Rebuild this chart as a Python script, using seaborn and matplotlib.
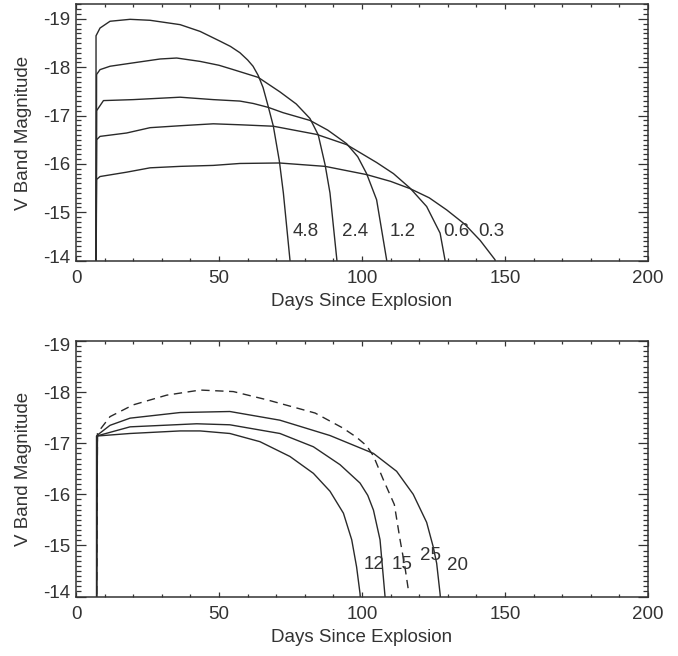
import matplotlib
matplotlib.use("Agg")
import matplotlib.pyplot as plt
from matplotlib.ticker import MultipleLocator, FixedLocator
from matplotlib.transforms import ScaledTranslation
import seaborn as sns
import pandas as pd

# ---------------- data: top panel ----------------
top_labels = ["4.8", "2.4", "1.2", "0.6", "0.3"]
days_48 = [7.0, 7.0, 8.4, 11.9, 18.9, 25.9, 36.4, 43.4, 50.3, 54.0, 57.3, 60.0, 61.9, 63.7, 65.4, 67.2, 69.0, 71.1, 72.5, 74.8, 75.0]
mag_48 = [-13.5, -18.65, -18.81, -18.95, -18.99, -18.97, -18.88, -18.74, -18.54, -18.43, -18.30, -18.15, -18.02, -17.83, -17.58, -17.19, -16.78, -16.06, -15.40, -14.02, -13.9]
days_24 = [7.0, 7.2, 8.4, 11.9, 20.0, 29.4, 35.2, 43.4, 50.0, 55.0, 63.7, 71.3, 77.0, 81.8, 84.7, 87.1, 88.8, 91.2, 91.4]
mag_24 = [-13.5, -17.85, -17.95, -18.02, -18.09, -18.17, -18.19, -18.12, -18.04, -17.95, -17.79, -17.49, -17.24, -16.94, -16.60, -15.98, -15.40, -14.02, -13.9]
days_12 = [7.0, 7.2, 9.6, 20.0, 36.4, 48.0, 57.3, 62.0, 67.2, 72.4, 81.8, 88.0, 94.6, 98.5, 101.6, 105.1, 108.6, 108.8]
mag_12 = [-13.5, -17.10, -17.31, -17.33, -17.38, -17.33, -17.30, -17.25, -17.17, -17.06, -16.90, -16.70, -16.42, -16.15, -15.80, -15.26, -14.02, -13.9]
days_06 = [7.0, 7.2, 8.4, 17.7, 25.9, 36.4, 48.0, 57.3, 69.0, 84.2, 94.6, 105.1, 111.0, 116.8, 122.6, 127.3, 129.0, 129.2]
mag_06 = [-13.5, -16.50, -16.57, -16.64, -16.75, -16.79, -16.83, -16.81, -16.78, -16.61, -16.40, -16.03, -15.80, -15.50, -15.12, -14.57, -14.02, -13.9]
days_03 = [7.0, 7.2, 8.4, 17.7, 25.9, 36.4, 48.0, 57.3, 71.1, 87.1, 101.6, 110.0, 116.8, 123.5, 129.6, 136.0, 141.3, 146.5, 146.8]
mag_03 = [-13.5, -15.68, -15.74, -15.83, -15.92, -15.95, -15.97, -16.01, -16.02, -15.95, -15.78, -15.64, -15.49, -15.30, -15.05, -14.75, -14.42, -14.02, -13.9]
top_days = [days_48, days_24, days_12, days_06, days_03]
top_mags = [mag_48, mag_24, mag_12, mag_06, mag_03]
top_label_x = [75.7, 92.9, 109.8, 128.3, 140.7]
top_label_y = [-14.61, -14.61, -14.61, -14.61, -14.61]

# ---------------- data: bottom panel ----------------
bot_labels = ["12", "15", "20", "25"]
days_m12 = [7.2, 7.2, 18.9, 36.4, 43.4, 53.8, 64.3, 74.8, 83.0, 88.8, 93.5, 96.4, 98.1, 99.3, 99.5]
mag_m12 = [-13.5, -17.14, -17.19, -17.24, -17.24, -17.19, -17.03, -16.74, -16.41, -16.06, -15.63, -15.11, -14.58, -14.06, -13.9]
days_m15 = [7.2, 7.2, 18.9, 42.2, 53.8, 71.3, 83.0, 92.3, 99.3, 102.0, 104.0, 106.3, 108.0, 108.2]
mag_m15 = [-13.5, -17.14, -17.32, -17.38, -17.36, -17.19, -16.93, -16.58, -16.22, -15.98, -15.69, -15.11, -14.03, -13.9]
days_m20 = [7.2, 7.5, 11.9, 18.9, 36.4, 53.8, 71.3, 88.8, 104.0, 112.1, 117.9, 122.6, 124.9, 126.1, 127.3, 127.5]
mag_m20 = [-13.5, -17.16, -17.35, -17.49, -17.60, -17.62, -17.45, -17.15, -16.80, -16.45, -16.00, -15.45, -14.97, -14.65, -14.05, -13.9]
days_m25 = [7.2, 7.5, 11.9, 20.0, 31.7, 43.4, 55.0, 66.7, 83.6, 93.2, 98.0, 101.6, 104.0, 107.5, 111.3, 113.3, 115.0, 116.2]
mag_m25 = [-13.5, -17.20, -17.52, -17.75, -17.94, -18.04, -18.01, -17.85, -17.59, -17.30, -17.12, -16.95, -16.75, -16.28, -15.80, -15.11, -14.58, -14.13]
bot_days = [days_m12, days_m15, days_m20, days_m25]
bot_mags = [mag_m12, mag_m15, mag_m20, mag_m25]
bot_dashed = [False, False, False, True]
bot_label_x = [100.5, 110.4, 129.8, 120.3]
bot_label_y = [-14.62, -14.62, -14.60, -14.81]

x_ticks = [0, 50, 100, 150, 200]
y_ticks = [-19, -18, -17, -16, -15, -14]

# ---------------- style ----------------
sns.set_style("ticks")
plt.rcParams["font.family"] = ["Liberation Sans", "DejaVu Sans"]
TXT = "#333333"
LINE = "#2a2a2a"
FS = 13.5

fig = plt.figure(figsize=(6.78, 6.56), dpi=100)
ax1 = fig.add_axes([0.1121, 0.6026, 0.8437, 0.3908])
ax2 = fig.add_axes([0.1121, 0.0907, 0.8437, 0.3895])


def style_axes(ax, ytop):
    ax.set_xlim(0, 200)
    ax.set_ylim(-14, ytop)
    ax.xaxis.set_major_locator(FixedLocator(x_ticks))
    ax.xaxis.set_minor_locator(MultipleLocator(10))
    ax.yaxis.set_major_locator(FixedLocator(y_ticks))
    ax.yaxis.set_minor_locator(MultipleLocator(0.1))
    ax.set_xticklabels([str(v) for v in x_ticks])
    ax.set_yticklabels([str(v) for v in y_ticks])
    ax.tick_params(which="both", direction="in", top=True, right=True,
                   color=TXT, labelcolor=TXT, labelsize=FS, width=0.9)
    ax.tick_params(axis="x", which="major", length=3.8, pad=7)
    ax.tick_params(axis="x", which="minor", length=2.0)
    ax.tick_params(axis="y", which="major", length=7.5, pad=4.0)
    ax.tick_params(axis="y", which="minor", length=3.8)
    for s in ax.spines.values():
        s.set_color(TXT)
        s.set_linewidth(1.1)
    ax.set_xlabel("Days Since Explosion", fontsize=FS, color=TXT, labelpad=4)
    ax.set_ylabel("V Band Magnitude", fontsize=FS, color=TXT, labelpad=8)


def nudge(ax, shifts):
    for tick, val in zip(ax.yaxis.get_major_ticks(), y_ticks):
        if val in shifts:
            tick.label1.set_transform(tick.label1.get_transform() +
                                      ScaledTranslation(0, shifts[val] / 100.0, fig.dpi_scale_trans))


# top panel
for d, m in zip(top_days, top_mags):
    sns.lineplot(x=d, y=m, sort=False, estimator=None, ax=ax1, color=LINE, lw=1.0)
for lab, lx, ly in zip(top_labels, top_label_x, top_label_y):
    ax1.text(lx, ly, lab, fontsize=FS, color=TXT, ha="left", va="center")
style_axes(ax1, -19.3)
nudge(ax1, {-14: 4})

# bottom panel
for d, m, dsh in zip(bot_days, bot_mags, bot_dashed):
    if dsh:
        sns.lineplot(x=d, y=m, sort=False, estimator=None, ax=ax2, color=LINE, lw=1.0,
                     linestyle=(0, (6, 4)))
    else:
        sns.lineplot(x=d, y=m, sort=False, estimator=None, ax=ax2, color=LINE, lw=1.0)
for lab, lx, ly in zip(bot_labels, bot_label_x, bot_label_y):
    ax2.text(lx, ly, lab, fontsize=FS, color=TXT, ha="left", va="center")
style_axes(ax2, -19.0)
nudge(ax2, {-19: -4, -14: 5})

fig.savefig("out.png", dpi=100)
